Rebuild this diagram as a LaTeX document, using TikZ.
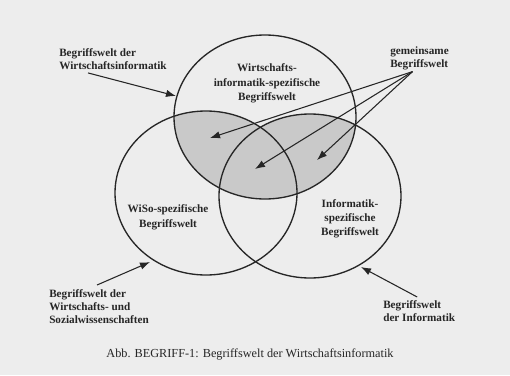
\documentclass[tikz,border=0pt]{standalone}
\usepackage{fontspec}
\setmainfont{Liberation Serif}
\usetikzlibrary{arrows.meta,positioning,calc}

\tikzset{
  lbl/.style={font=\fontsize{8.4}{10}\selectfont\bfseries, align=left, inner sep=0pt, text=black!85},
  inlbl/.style={font=\fontsize{8.4}{10.8}\selectfont\bfseries, align=center, inner sep=0pt, text=black!85},
  pointer/.style={-{Latex[length=7.5pt,width=5.5pt]}, line width=0.8pt, draw=black!85},
  welt/.style={line width=1pt, draw=black!85},
}

\begin{document}
\begin{tikzpicture}[x=0.75pt,y=-0.75pt]
    \fill [gray!14] (0,0) rectangle (510,375);
    \useasboundingbox (0,0) rectangle (510,375);
    \begin{scope}
      \clip (265,117) ellipse [x radius=91, y radius=82];
      \fill [gray!42] (206,193) ellipse [x radius=91, y radius=82]
                      (310,196) ellipse [x radius=91, y radius=82];
    \end{scope}
    \draw [welt] (265,117) ellipse [x radius=91, y radius=82];
    \draw [welt] (206,193) ellipse [x radius=91, y radius=82];
    \draw [welt] (310,196) ellipse [x radius=91, y radius=82];

    \node [inlbl, anchor=north] (wiin) at (267,63.5) {Wirtschafts-\\informatik-spezifische\\Begriffswelt};
    \node [inlbl, anchor=north] (wisoin) at (168,204.5) {WiSo-spezifische\\Begriffswelt};
    \node [inlbl, anchor=north] (infin) at (350,199) {Informatik-\\spezifische\\Begriffswelt};

    \node [lbl, anchor=north west] (wilbl) at (59,48) {Begriffswelt der\\Wirtschaftsinformatik};
    \node [lbl, anchor=north west] (gemlbl) at (390,46.5) {gemeinsame\\Begriffswelt};
    \node [lbl, anchor=north west] (wisolbl) at (49,289) {Begriffswelt der\\Wirtschafts- und\\Sozialwissenschaften};
    \node [lbl, anchor=north west] (inflbl) at (383,300) {Begriffswelt\\der Informatik};
    \node [font=\fontsize{9.2}{11}\selectfont, inner sep=0pt, text=black!85, anchor=base] (caption) at (250,357)
      {Abb. BEGRIFF-1: Begriffswelt der Wirtschaftsinformatik};

    \coordinate (witip) at (176,96);
    \coordinate (gemtipa) at (210,138);
    \coordinate (gemtipb) at (255,169);
    \coordinate (gemtipc) at (317,160);
    \coordinate (wisotip) at (150,262);
    \coordinate (inftip) at (361,267);

    \draw [pointer] ([shift={(29,3)}]wilbl.south west) -- (witip);
    \draw [pointer] ([shift={(-7,1)}]gemlbl.south) -- (gemtipa);
    \draw [pointer] ([shift={(-7,1)}]gemlbl.south) -- (gemtipb);
    \draw [pointer] ([shift={(-7,1)}]gemlbl.south) -- (gemtipc);
    \draw [pointer] ([shift={(-2,-4)}]wisolbl.north) -- (wisotip);
    \draw [pointer] ([shift={(-2,-3)}]inflbl.north) -- (inftip);
\end{tikzpicture}
\end{document}
